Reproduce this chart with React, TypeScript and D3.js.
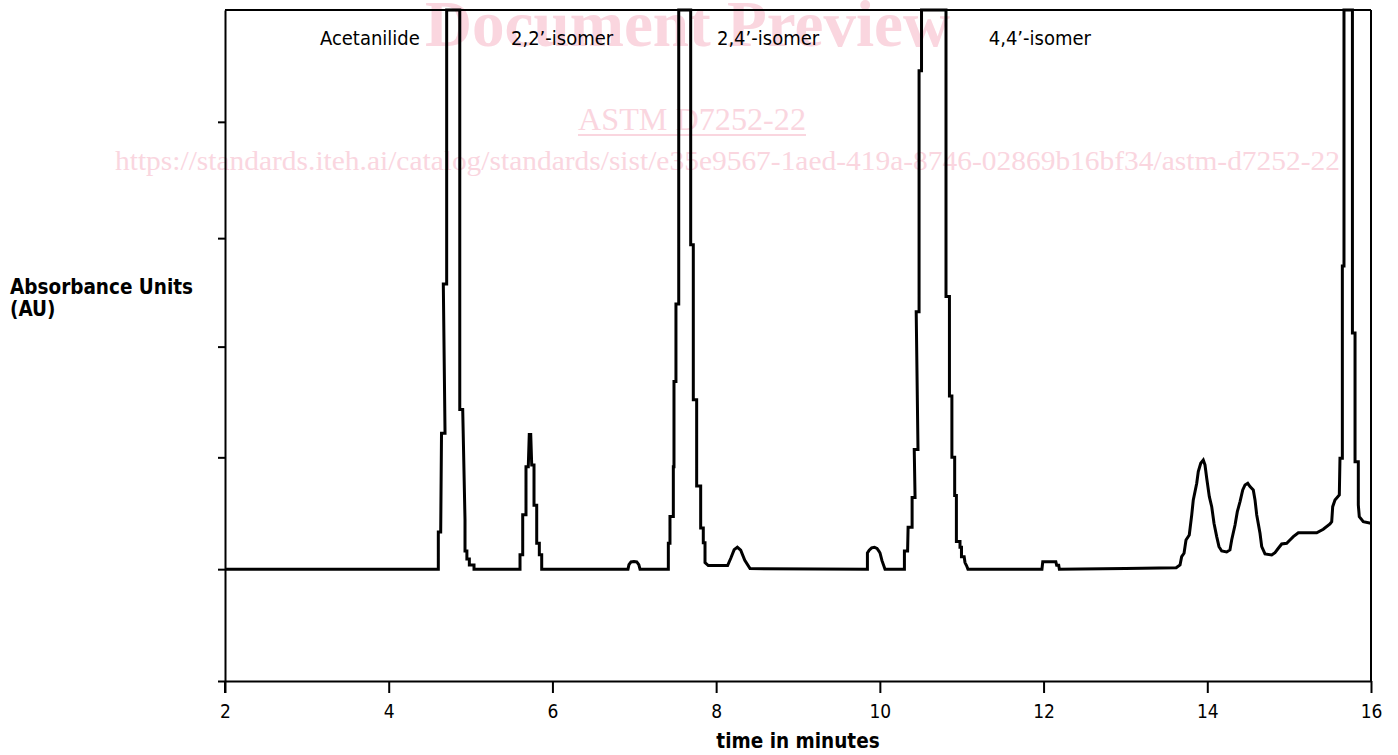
import React, { useEffect, useRef } from 'react';
import * as d3 from 'd3';

const W = 1398;
const H = 755;
const PLOT = { left: 225, right: 1371, top: 10, bottom: 681 };

const xDomain: [number, number] = [2, 16];
const yDomain: [number, number] = [-1, 5];
const xTicks = [2, 4, 6, 8, 10, 12, 14, 16];
const yTicks = [-1, 0, 1, 1.99, 2.96, 4];

const xTitle = 'time in minutes';
const yTitle = ['Absorbance Units', '(AU)'];

const peakLabels = ['Acetanilide', '2,2’-isomer', '2,4’-isomer', '4,4’-isomer'];
const peakLabelTimes = [3.16, 5.494, 8.01, 11.33];

// trace pieces: [time (min), absorbance (AU)]
const baselineStart: [number, number][] = [[2, 0], [4.606, 0]];
const acetanilide: [number, number][] = [
  [4.606, 0.333], [4.635, 0.333], [4.645, 1.216], [4.688, 1.216], [4.667, 2.55], [4.708, 2.55],
  [4.708, 5.4], [4.868, 5.4], [4.868, 1.428], [4.904, 1.428], [4.932, 0.44], [4.932, 0.163],
  [4.955, 0.163], [4.955, 0.091], [4.985, 0.091], [4.985, 0.038], [5.042, 0.038], [5.042, 0],
  [5.604, 0],
];
const isomer22: [number, number][] = [
  [5.604, 0.128], [5.637, 0.128], [5.637, 0.487], [5.677, 0.487], [5.677, 0.915], [5.705, 0.915],
  [5.717, 1.205], [5.735, 1.205], [5.747, 0.932], [5.775, 0.932], [5.775, 0.572], [5.808, 0.572],
  [5.808, 0.231], [5.84, 0.231], [5.84, 0.128], [5.869, 0.128], [5.869, 0], [6.923, 0],
];
const bump7: [number, number][] = [
  [6.935, 0.04], [6.96, 0.065], [6.996, 0.069], [7.03, 0.065], [7.055, 0.04], [7.07, 0], [7.416, 0],
];
const isomer24: [number, number][] = [
  [7.416, 0.231], [7.436, 0.231], [7.436, 0.47], [7.477, 0.47], [7.477, 0.915], [7.485, 0.915],
  [7.485, 1.678], [7.509, 1.678], [7.509, 2.37], [7.543, 2.37], [7.543, 5.4], [7.689, 5.4],
  [7.689, 2.9], [7.721, 2.9], [7.721, 1.514], [7.762, 1.514], [7.762, 0.744], [7.811, 0.744],
  [7.811, 0.368], [7.843, 0.368], [7.843, 0.237], [7.864, 0.237], [7.864, 0.059], [7.904, 0.032],
  [8.14, 0.032],
];
const bump8: [number, number][] = [
  [8.18, 0.1], [8.22, 0.175], [8.259, 0.196], [8.3, 0.17], [8.35, 0.08], [8.414, 0.005], [9.848, 0],
];
const bump10: [number, number][] = [
  [9.848, 0.145], [9.87, 0.17], [9.9, 0.19], [9.933, 0.196], [9.965, 0.185], [9.99, 0.16],
  [10.002, 0.145], [10.026, 0.076], [10.063, 0], [10.3, 0],
];
const isomer44: [number, number][] = [
  [10.3, 0.162], [10.339, 0.162], [10.345, 0.374], [10.394, 0.374], [10.394, 0.641], [10.43, 0.641],
  [10.42, 1.069], [10.466, 1.069], [10.444, 2.301], [10.479, 2.301], [10.479, 4.457], [10.509, 4.457],
  [10.509, 5.4], [10.808, 5.4], [10.808, 2.438], [10.85, 2.438], [10.85, 1.548], [10.88, 1.548],
  [10.88, 1.0], [10.914, 1.0], [10.914, 0.658], [10.935, 0.658], [10.935, 0.248], [10.979, 0.248],
  [10.979, 0.196], [10.997, 0.196], [10.997, 0.111], [11.03, 0.111], [11.04, 0.059], [11.06, 0.03],
  [11.076, 0], [11.98, 0],
];
const bump12: [number, number][] = [
  [11.99, 0.066], [12.15, 0.066], [12.16, 0.035], [12.185, 0.035], [12.193, 0], [13.0, 0.005],
  [13.62, 0.013],
];
const lateCluster: [number, number][] = [
  [13.667, 0.038], [13.687, 0.112], [13.716, 0.142], [13.74, 0.261], [13.78, 0.306], [13.81, 0.485],
  [13.829, 0.619], [13.871, 0.768], [13.89, 0.872], [13.92, 0.947], [13.951, 0.976], [13.972, 0.932],
  [13.993, 0.813], [14.025, 0.648], [14.054, 0.559], [14.082, 0.41], [14.115, 0.291], [14.143, 0.201],
  [14.176, 0.163], [14.237, 0.154], [14.277, 0.172], [14.298, 0.261], [14.339, 0.395], [14.367, 0.514],
  [14.4, 0.604], [14.433, 0.708], [14.461, 0.753], [14.494, 0.768], [14.522, 0.738], [14.562, 0.708],
  [14.583, 0.619], [14.604, 0.485], [14.644, 0.321], [14.665, 0.201], [14.705, 0.136], [14.787, 0.127],
  [14.827, 0.148], [14.868, 0.187], [14.909, 0.225], [14.97, 0.232], [15.01, 0.261], [15.051, 0.291],
  [15.112, 0.326], [15.337, 0.326], [15.417, 0.357], [15.499, 0.404], [15.52, 0.425],
];
const finalPeak: [number, number][] = [
  [15.532, 0.559], [15.56, 0.619], [15.613, 0.663], [15.621, 0.992], [15.65, 0.992], [15.65, 2.711],
  [15.67, 2.711], [15.67, 5.4], [15.773, 5.4], [15.773, 2.112], [15.805, 2.112], [15.805, 0.961],
  [15.845, 0.961], [15.845, 0.574], [15.857, 0.469], [15.906, 0.425], [15.996, 0.41], [16, 0.41],
];

const trace = [
  ...baselineStart, ...acetanilide, ...isomer22, ...bump7, ...isomer24, ...bump8,
  ...bump10, ...isomer44, ...bump12, ...lateCluster, ...finalPeak,
];

const watermarkTitle = 'Document Preview';
const watermarkCode = 'ASTM D7252-22';
const watermarkUrl =
  'https://standards.iteh.ai/catalog/standards/sist/e35e9567-1aed-419a-8746-02869b16bf34/astm-d7252-22';

const FONT = "'DejaVu Sans Condensed', 'DejaVu Sans', sans-serif";
const PINK = '#fad6df';

export default function App() {
  const xRef = useRef<SVGGElement>(null);
  const yRef = useRef<SVGGElement>(null);

  const x = d3.scaleLinear().domain(xDomain).range([PLOT.left, PLOT.right]);
  const y = d3.scaleLinear().domain(yDomain).range([PLOT.bottom, PLOT.top]).clamp(true);

  const line = d3
    .line<[number, number]>()
    .x((d) => x(d[0]))
    .y((d) => y(d[1]));

  useEffect(() => {
    if (xRef.current) {
      const g = d3.select(xRef.current);
      g.call(d3.axisBottom(x).tickValues(xTicks).tickSize(12).tickSizeOuter(0).tickFormat(d3.format('d')) as any);
      g.select('.domain').attr('stroke', '#000').attr('stroke-width', 2);
      g.selectAll('.tick line').attr('stroke', '#000').attr('stroke-width', 2);
      g.selectAll('.tick text')
        .attr('y', 37)
        .attr('dy', 0)
        .attr('fill', '#000')
        .style('font-family', FONT)
        .style('font-stretch', 'condensed')
        .style('font-size', '19px');
    }
    if (yRef.current) {
      const g = d3.select(yRef.current);
      g.call(d3.axisLeft(y).tickValues(yTicks).tickSize(7).tickSizeOuter(0).tickFormat(() => '') as any);
      g.select('.domain').attr('stroke', '#000').attr('stroke-width', 2);
      g.selectAll('.tick line').attr('stroke', '#000').attr('stroke-width', 2);
    }
  }, []);

  return (
    <svg
      width={W}
      height={H}
      style={{ position: 'absolute', left: 0, top: 0, background: '#fff' }}
      xmlns="http://www.w3.org/2000/svg"
    >
      <rect x={0} y={0} width={W} height={H} fill="#fff" />
      {/* watermark */}
      <g fill={PINK} fontFamily="'Liberation Serif', 'Times New Roman', serif">
        <text x={425} y={46} fontSize={65} fontWeight="bold" textLength={525} lengthAdjust="spacingAndGlyphs">
          {watermarkTitle}
        </text>
        <text x={578} y={130} fontSize={32} textLength={228} lengthAdjust="spacingAndGlyphs">
          {watermarkCode}
        </text>
        <rect x={578} y={134} width={228} height={2} />
        <text x={115} y={170} fontSize={28} textLength={1225} lengthAdjust="spacingAndGlyphs">
          {watermarkUrl}
        </text>
      </g>

      {/* frame */}
      <line x1={PLOT.left} x2={PLOT.right} y1={PLOT.top} y2={PLOT.top} stroke="#000" strokeWidth={2} />
      <line x1={PLOT.right} x2={PLOT.right} y1={PLOT.top} y2={PLOT.bottom} stroke="#000" strokeWidth={2} />
      <line x1={PLOT.left} x2={PLOT.left} y1={PLOT.bottom} y2={PLOT.bottom + 12} stroke="#000" strokeWidth={2} />

      <g ref={xRef} transform={`translate(0,${PLOT.bottom})`} />
      <g ref={yRef} transform={`translate(${PLOT.left},0)`} />

      <path d={line(trace) || ''} fill="none" stroke="#000" strokeWidth={3} strokeLinejoin="miter" />

      {peakLabels.map((label, i) => (
        <text
          key={label}
          x={x(peakLabelTimes[i])}
          y={45}
          fontFamily={FONT}
          style={{ fontStretch: 'condensed' }}
          fontSize={20}
          fill="#000"
        >
          {label}
        </text>
      ))}

      <text
        x={(PLOT.left + PLOT.right) / 2}
        y={748}
        textAnchor="middle"
        fontFamily={FONT}
        style={{ fontStretch: 'condensed' }}
        fontWeight="bold"
        fontSize={20.5}
        fill="#000"
      >
        {xTitle}
      </text>
      <text x={10} y={294} fontFamily={FONT} style={{ fontStretch: 'condensed' }} fontWeight="bold" fontSize={20.5} fill="#000">
        {yTitle[0]}
      </text>
      <text x={10} y={316} fontFamily={FONT} style={{ fontStretch: 'condensed' }} fontWeight="bold" fontSize={20.5} fill="#000">
        {yTitle[1]}
      </text>
    </svg>
  );
}
